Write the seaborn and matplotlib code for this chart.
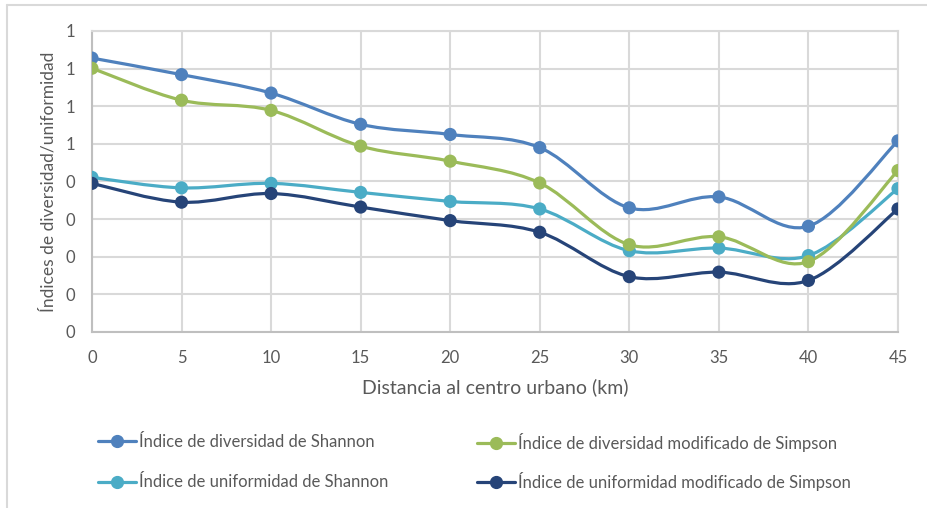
import numpy as np
import pandas as pd
import seaborn as sns
import matplotlib.pyplot as plt
from matplotlib.path import Path
from matplotlib.patches import PathPatch
from matplotlib.lines import Line2D

# datos
distancia = [0, 5, 10, 15, 20, 25, 30, 35, 40, 45]
div_shannon = [0.728, 0.684, 0.635, 0.552, 0.525, 0.490, 0.330, 0.359, 0.281, 0.508]
div_simpson = [0.701, 0.616, 0.589, 0.494, 0.454, 0.396, 0.232, 0.253, 0.187, 0.429]
unif_shannon = [0.411, 0.383, 0.395, 0.371, 0.347, 0.327, 0.216, 0.223, 0.203, 0.381]
unif_simpson = [0.395, 0.345, 0.368, 0.332, 0.296, 0.265, 0.147, 0.159, 0.137, 0.327]

y_ticks = [0, 0.1, 0.2, 0.3, 0.4, 0.5, 0.6, 0.7, 0.8]
y_ticklabels = ["0", "0", "0", "0", "0", "1", "1", "1", "1"]

series = [
    ("Índice de diversidad de Shannon", div_shannon, "#4F81BD"),
    ("Índice de uniformidad de Shannon", unif_shannon, "#4BACC6"),
    ("Índice de diversidad modificado de Simpson", div_simpson, "#9BBB59"),
    ("Índice de uniformidad modificado de Simpson", unif_simpson, "#264478"),
]

df = pd.concat([pd.DataFrame({"x": distancia, "y": vals, "serie": name})
                for name, vals, _ in series])
palette = {name: c for name, _, c in series}

sns.set_style("white")
plt.rcParams["font.family"] = ["Lato", "DejaVu Sans"]

fig = plt.figure(figsize=(9.27, 5.08), dpi=100)
ax = fig.add_axes([0.0992, 0.3465, 0.8695, 0.5925])


def smooth_path(xs, ys):
    # curva suavizada tipo Excel (Catmull-Rom -> Bezier)
    pts = np.column_stack([xs, ys]).astype(float)
    ext = np.vstack([pts[0], pts, pts[-1]])
    verts = [pts[0]]
    codes = [Path.MOVETO]
    for i in range(1, len(ext) - 2):
        p0, p1, p2, p3 = ext[i - 1], ext[i], ext[i + 1], ext[i + 2]
        verts += [p1 + (p2 - p0) / 6, p2 - (p3 - p1) / 6, p2]
        codes += [Path.CURVE4] * 3
    return Path(verts, codes)


for name, vals, color in series:
    ax.add_patch(PathPatch(smooth_path(distancia, vals), fill=False,
                           edgecolor=color, lw=2.3, zorder=2))

sns.scatterplot(data=df, x="x", y="y", hue="serie", palette=palette, s=90,
                linewidth=0, legend=False, ax=ax, zorder=3)

ax.set_xlim(0, 45)
ax.set_ylim(0, 0.8)
ax.set_xticks(distancia)
ax.set_yticks(y_ticks)
ax.set_yticklabels(y_ticklabels)
ax.grid(True, color="#D9D9D9", lw=1.5)
ax.set_axisbelow(True)
for s in ["top", "right"]:
    ax.spines[s].set_color("#D9D9D9")
    ax.spines[s].set_linewidth(1.5)
for s in ["left", "bottom"]:
    ax.spines[s].set_color("#BFBFBF")
    ax.spines[s].set_linewidth(1.5)
ax.tick_params(colors="#595959", labelsize=12, length=0)
ax.tick_params(axis="x", pad=13)
ax.tick_params(axis="y", pad=12)
ax.set_xlabel("Distancia al centro urbano (km)", fontsize=14, color="#595959", labelpad=9)
ax.set_ylabel("Índices de diversidad/uniformidad", fontsize=12.5, color="#595959", labelpad=6.5)

# leyenda en dos columnas (una leyenda por columna para alinear filas)
handles = [Line2D([0], [0], color=c, lw=2.3, marker="o", markersize=8.5)
           for _, _, c in series]
labels = [name for name, _, _ in series]
opts = dict(loc="center left", frameon=False, fontsize=12, labelcolor="#595959",
            handlelength=2.3, handletextpad=0.2)
fig.legend(handles[:2], labels[:2], bbox_to_anchor=(0.089, 0.09), labelspacing=1.45, **opts)
fig.legend(handles[2:], labels[2:], bbox_to_anchor=(0.498, 0.09), labelspacing=1.2, **opts)

# marco del grafico
fig.add_artist(Line2D([0.0075, 1], [0.99, 0.99], color="#D9D9D9", lw=1.5))
fig.add_artist(Line2D([0.0075, 0.0075], [0, 0.99], color="#D9D9D9", lw=1.5))

fig.savefig("out.png", dpi=100)
